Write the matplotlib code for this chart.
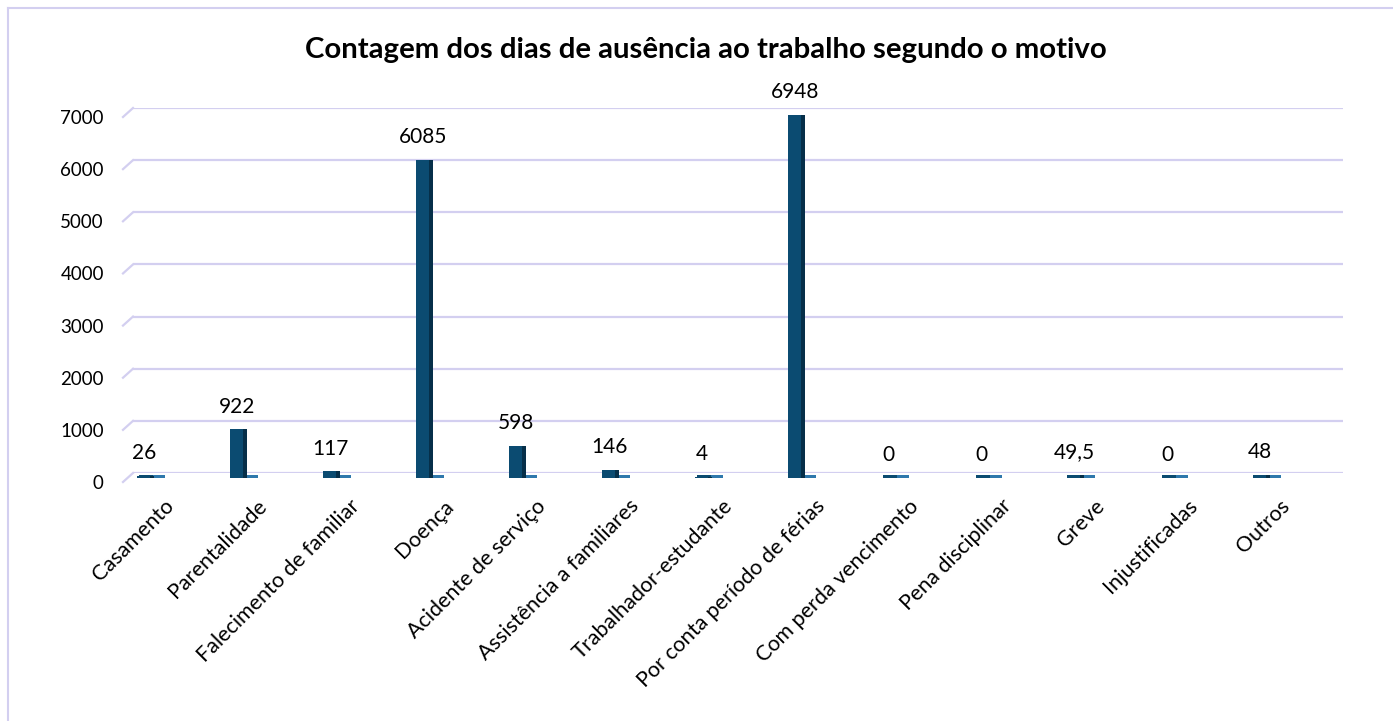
import matplotlib
matplotlib.use("Agg")
import matplotlib.pyplot as plt
from matplotlib.transforms import ScaledTranslation
from matplotlib.lines import Line2D

plt.rcParams['font.family'] = ['Lato', 'DejaVu Sans']

categories = ["Casamento", "Parentalidade", "Falecimento de familiar", "Doença",
              "Acidente de serviço", "Assistência a familiares", "Trabalhador-estudante",
              "Por conta período de férias", "Com perda vencimento", "Pena disciplinar",
              "Greve", "Injustificadas", "Outros"]
values = [26, 922, 117, 6085, 598, 146, 4, 6948, 0, 0, 49.5, 0, 48]
yticks = [0, 1000, 2000, 3000, 4000, 5000, 6000, 7000]
title = "Contagem dos dias de ausência ao trabalho segundo o motivo"

W, H = 1393, 721
fig = plt.figure(figsize=(W / 100, H / 100), dpi=100)
ax = fig.add_axes([133 / W, 1 - 473 / H, 1210 / W, 365 / H])

grid_c = "#D3CFF0"
front_c = "#0B4B71"
side_c = "#062F49"
floor_c = "#2F78AC"

x = list(range(len(categories)))
ax.set_xlim(-0.14, -0.14 + 1210 / 93)
ax.set_ylim(0, 7000)
px = 7000 / 365  # data units per pixel

shift = ScaledTranslation(0, -0.045, fig.dpi_scale_trans)

# bars (pseudo 3D)
floor = ax.bar([i + 0.13 for i in x], [3 * px] * len(x), width=0.14,
               color=floor_c, zorder=2, linewidth=0)
base = ax.bar([i + 0.0 for i in x], [3 * px] * len(x), width=0.16,
              color=front_c, zorder=2.5, linewidth=0)
front = ax.bar([i - 0.03 for i in x], values, width=0.14, color=front_c, zorder=3, linewidth=0)
side = ax.bar([i + 0.062 for i in x], values, width=0.045, color=side_c, zorder=3, linewidth=0)
for cont in (floor, base, front, side):
    for p in cont.patches:
        p.set_transform(ax.transData + shift)
        p.set_clip_on(False)

for i, v in zip(x, values):
    lab = (f"{v:g}").replace(".", ",")
    ax.annotate(lab, (i - 0.02, v), xytext=(0, 6), textcoords="offset points",
                ha="center", va="bottom", fontsize=15, color="black", zorder=5,
                annotation_clip=False)

# gridlines with perspective diagonals
for t in yticks:
    ax.axhline(t, color=grid_c, lw=1.6, zorder=1)
    ax.add_line(Line2D([0, -10 / 1210], [t, t - 9 * px], color=grid_c, lw=1.6,
                       transform=ax.get_yaxis_transform(), clip_on=False))

ax.set_yticks(yticks)
ax.set_yticklabels([str(t) for t in yticks], fontsize=13.5)
ax.tick_params(axis="y", length=0, pad=21)
for lab in ax.get_yticklabels():
    lab.set_transform(lab.get_transform() + ScaledTranslation(0, -0.09, fig.dpi_scale_trans))

ax.set_xticks(x)
ax.set_xticklabels(categories, rotation=45, ha="right", va="center",
                   rotation_mode="anchor", fontsize=15.5)
ax.tick_params(axis="x", length=0, pad=0)
for lab in ax.get_xticklabels():
    lab.set_transform(lab.get_transform() + ScaledTranslation(0.25, -0.30, fig.dpi_scale_trans))

for s in ax.spines.values():
    s.set_visible(False)
ax.set_facecolor("none")

fig.text(706 / W, 1 - 50 / H, title, ha="center", va="center",
         fontsize=21.2, fontweight="bold")

# outer frame
fig.add_artist(Line2D([8 / W, 8 / W], [0, 1 - 8 / H], color=grid_c, lw=1.5,
                      transform=fig.transFigure))
fig.add_artist(Line2D([8 / W, 1], [1 - 8 / H, 1 - 8 / H], color=grid_c, lw=1.5,
                      transform=fig.transFigure))

fig.savefig("out.png", dpi=100)
